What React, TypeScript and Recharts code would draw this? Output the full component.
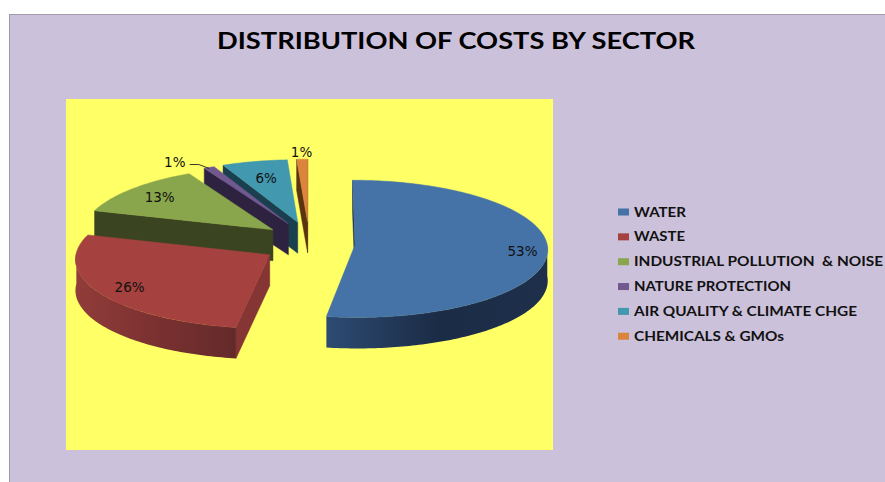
import React from 'react';
import { PieChart, Pie, Legend } from 'recharts';

// Sector shares of total cost, in percent.
const sectors = ['WATER', 'WASTE', 'INDUSTRIAL POLLUTION  & NOISE', 'NATURE PROTECTION', 'AIR QUALITY & CLIMATE CHGE', 'CHEMICALS & GMOs'];
const shares = [53, 26, 13, 1, 6, 1];
const topColors = ['#4572a7', '#a5423f', '#8aa64c', '#71588f', '#4198af', '#db843d'];
const cutColors = ['#1b2c46', '#843534', '#3a4420', '#2d2340', '#1a404f', '#5b3310'];
const wallStops = [
  ['#2d4b72', '#1b2c46', '#1d2f4a'],
  ['#913c3a', '#7a3130', '#632a2a'],
  ['#3a4420', '#3a4420', '#3a4420'],
  ['#2d2340', '#2d2340', '#2d2340'],
  ['#1a404f', '#1a404f', '#1a404f'],
  ['#5b3310', '#5b3310', '#5b3310'],
];
// Legend text widths, so the stretched lettering keeps its run length.
const legendSpans = [52, 51, 249, 157, 223, 150];
// How far out along its own slice each percentage sits.
const labelReach = [0.87, 0.83, 0.8, 1.3, 0.72, 1.12];

// Slices are painted back to front: reversing the table and sweeping the other way keeps the clockwise layout.
const rows = sectors
  .map((name, i) => ({ name, value: shares[i], fill: topColors[i], cut: cutColors[i], stops: wallStops[i], reach: labelReach[i] }))
  .reverse();

const DEPTH = 31;
const FLATTEN = 0.355;
const PERSPECTIVE = 0.055;
const EXPLODE_X = 0.24;
const EXPLODE_Z = 0.32;

// Small bearing corrections [bearing, shift] that give the camera's oblique look to the disc rim.
const rimWarp: [number, number][] = [[0, 0], [90, 0], [190, -2], [240, 0], [285, 2.5], [335, 0.5], [360, 0]];

type Pt = [number, number];

const rad = (d: number) => (d * Math.PI) / 180;

function warp(bearing: number) {
  const t = ((bearing % 360) + 360) % 360;
  for (let i = 1; i < rimWarp.length; i++) {
    const [b0, s0] = rimWarp[i - 1];
    const [b1, s1] = rimWarp[i];
    if (t <= b1) return bearing + s0 + ((s1 - s0) * (t - b0)) / (b1 - b0);
  }
  return bearing;
}

// Clockwise-from-north bearings of a sector.
function bearings(startAngle: number, endAngle: number): [number, number] {
  let a = 90 - endAngle;
  let b = 90 - startAngle;
  if (a < 0) {
    a += 360;
    b += 360;
  }
  return [a, b];
}

// Projects a point of the tilted, exploded disc onto the screen.
function project(cx: number, cy: number, r: number, mid: number, bearing: number, reach: number): Pt {
  const seen = warp(bearing);
  const X = EXPLODE_X * Math.sin(rad(mid)) + reach * Math.sin(rad(seen));
  const Z = EXPLODE_Z * Math.cos(rad(mid)) + reach * Math.cos(rad(seen));
  const w = 1 + PERSPECTIVE * Z;
  return [cx + (r * X) / w, cy - (r * FLATTEN * Z) / w];
}

const poly = (pts: Pt[]) => pts.map((p, i) => `${i ? 'L' : 'M'}${p[0].toFixed(2)} ${p[1].toFixed(2)}`).join(' ') + ' Z';
const drop = (p: Pt): Pt => [p[0], p[1] + DEPTH];

function Slice(props: any) {
  const { cx, cy, outerRadius, startAngle, endAngle, fill, name } = props;
  const cut = props.cut ?? props.payload?.cut;
  const stops = props.stops ?? props.payload?.stops;
  const [a, b] = bearings(startAngle, endAngle);
  const mid = (a + b) / 2;
  const at = (bearing: number, reach = 1) => project(cx, cy, outerRadius, mid, bearing, reach);
  const apex = at(a, 0);
  const centre = at(mid, 0.5);

  const rim: Pt[] = [];
  const steps = Math.max(4, Math.ceil(b - a));
  for (let i = 0; i <= steps; i++) rim.push(at(a + ((b - a) * i) / steps));

  // A cut face shows only when its outward side points down the screen.
  const faces = [rim[0], rim[rim.length - 1]].filter((p) => {
    let nx = -(p[1] - apex[1]);
    let ny = p[0] - apex[0];
    if (nx * (centre[0] - apex[0]) + ny * (centre[1] - apex[1]) > 0) {
      nx = -nx;
      ny = -ny;
    }
    return ny > 0;
  });

  // The curved wall faces the viewer across the near half of the disc.
  const wallFrom = Math.max(a, 90);
  const wallTo = Math.min(b, 270);
  const wallTop: Pt[] = [];
  if (wallTo > wallFrom) {
    const n = Math.ceil(wallTo - wallFrom);
    for (let i = 0; i <= n; i++) wallTop.push(at(wallFrom + ((wallTo - wallFrom) * i) / n));
  }
  const xs = wallTop.map((p) => p[0]);
  const gradId = `wall-${String(name).replace(/[^A-Za-z]/g, '')}`;

  return (
    <g>
      {faces.map((p, i) => (
        <path key={i} d={poly([apex, p, drop(p), drop(apex)])} fill={cut} stroke={cut} strokeWidth={0.5} />
      ))}
      {wallTop.length > 1 && (
        <>
          <defs>
            <linearGradient id={gradId} gradientUnits="userSpaceOnUse" x1={Math.min(...xs)} x2={Math.max(...xs)} y1={0} y2={0}>
              <stop offset="0%" stopColor={stops[0]} />
              <stop offset="50%" stopColor={stops[1]} />
              <stop offset="100%" stopColor={stops[2]} />
            </linearGradient>
          </defs>
          <path d={poly([...wallTop, ...wallTop.map(drop).reverse()])} fill={`url(#${gradId})`} />
        </>
      )}
      <path d={poly([apex, ...rim])} fill={fill} stroke={fill} strokeWidth={0.5} />
    </g>
  );
}

function PercentLabel(props: any) {
  const { cx, cy, outerRadius, startAngle, endAngle, value, name } = props;
  const reach = props.reach ?? props.payload?.reach ?? 1;
  const [a, b] = bearings(startAngle, endAngle);
  const mid = (a + b) / 2;
  const [px, py] = project(cx, cy, outerRadius, mid, mid, reach);
  const isNature = name === 'NATURE PROTECTION';
  // The narrow nature slice carries its label to the side, on a leader.
  const x = isNature ? px - 12 : px;
  const y = isNature ? py + 10 : py;
  const leader = project(cx, cy, outerRadius, mid, mid, 1);
  return (
    <g>
      {isNature && (
        <path d={`M${x + 15} ${y + 3} h9 L${leader[0]} ${leader[1] + 1}`} fill="none" stroke="#222" strokeWidth={0.9} />
      )}
      <text x={x} y={y} textAnchor="middle" dominantBaseline="central" fontFamily="'DejaVu Sans'" fontSize={13.5} fill="#111">
        {`${value}%`}
      </text>
    </g>
  );
}

function SectorKey({ payload }: any) {
  const items = [...(payload ?? [])].sort((p: any, q: any) => sectors.indexOf(p.value) - sectors.indexOf(q.value));
  return (
    <svg width={275} height={160} style={{ display: 'block' }}>
      {items.map((item: any, i: number) => {
        const y = 16 + i * 24.85;
        return (
          <g key={item.value}>
            <rect x={8} y={y - 3.5} width={11} height={7} fill={item.color} />
            <text
              x={24}
              y={y + 4.5}
              fontFamily="Lato"
              fontWeight={700}
              fontSize={13}
              fill="#111"
              textLength={legendSpans[i]}
              lengthAdjust="spacingAndGlyphs"
              xmlSpace="preserve"
            >
              {item.value}
            </text>
          </g>
        );
      })}
    </svg>
  );
}

export default function App() {
  return (
    <div style={{ position: 'absolute', left: 0, top: 0, width: 885, height: 482, background: '#fff', overflow: 'hidden' }}>
      <div style={{ position: 'absolute', left: 9, top: 14, width: 880, height: 480, boxSizing: 'border-box', background: '#ccc1da', border: '1.5px solid #a39ba9' }} />
      <div style={{ position: 'absolute', left: 66, top: 99, width: 487, height: 351, background: '#ffff66' }} />
      <div style={{ position: 'absolute', left: 0, top: 0 }}>
        <PieChart width={885} height={482} margin={{ top: 0, right: 0, bottom: 0, left: 0 }}>
          <text x={456} y={49} textAnchor="middle" fontFamily="Lato" fontWeight={700} fontSize={23} fill="#000" textLength={478} lengthAdjust="spacingAndGlyphs">
            DISTRIBUTION OF COSTS BY SECTOR
          </text>
          <Pie
            data={rows}
            dataKey="value"
            nameKey="name"
            cx={309}
            cy={243}
            outerRadius={192}
            startAngle={90}
            endAngle={450}
            stroke="none"
            isAnimationActive={false}
            shape={Slice}
            label={PercentLabel}
            labelLine={false}
          />
          <Legend
            layout="vertical"
            align="right"
            verticalAlign="middle"
            wrapperStyle={{ position: 'absolute', left: 610, top: 196, width: 275 }}
            content={SectorKey}
          />
        </PieChart>
      </div>
    </div>
  );
}
